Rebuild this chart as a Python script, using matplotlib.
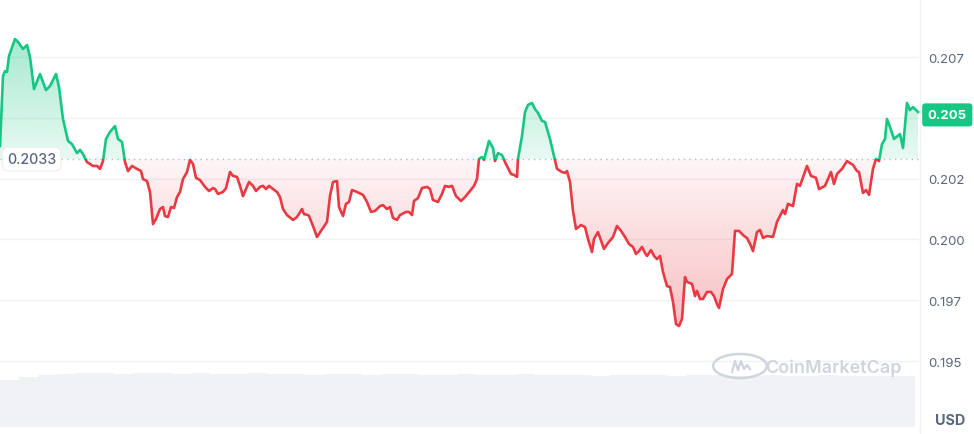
import matplotlib
matplotlib.use('Agg')
import numpy as np
import matplotlib.pyplot as plt
from matplotlib import transforms
from matplotlib.path import Path
from matplotlib.patches import Rectangle, Circle
from matplotlib.lines import Line2D
from matplotlib.colors import to_rgb

plt.rcParams['font.family'] = ['Inter', 'DejaVu Sans']

# time position of each sample (chart has no x labels, 0..919 over the day)
t = [0, 3, 5, 7, 9, 15, 18, 23, 27, 30, 34, 40, 46, 50, 56, 59, 63, 68, 72, 77,
     80, 83, 87, 93, 97, 100, 103, 106, 110, 115, 118, 122, 125, 128, 132, 137, 141, 143, 147, 150,
     153, 156, 160, 163, 165, 168, 171, 174, 177, 180, 183, 187, 190, 193, 196, 200, 205, 209, 213, 215,
     218, 223, 226, 230, 233, 237, 240, 243, 247, 249, 253, 256, 260, 263, 266, 269, 273, 277, 280, 283,
     287, 293, 297, 302, 304, 308, 309, 313, 317, 321, 327, 330, 333, 337, 339, 343, 346, 349, 352, 357,
     363, 367, 371, 375, 380, 383, 387, 390, 393, 397, 400, 406, 409, 412, 414, 418, 422, 427, 430, 433,
     438, 442, 445, 449, 452, 456, 461, 465, 470, 474, 477, 479, 482, 484, 489, 493, 495, 498, 502, 505,
     511, 514, 517, 518, 522, 525, 528, 532, 535, 538, 542, 545, 550, 554, 557, 562, 565, 567, 570, 573,
     576, 581, 585, 588, 592, 594, 598, 604, 608, 613, 617, 621, 625, 629, 633, 636, 639, 642, 645, 647,
     651, 654, 657, 660, 663, 667, 670, 673, 676, 679, 682, 685, 687, 692, 695, 697, 700, 703, 707, 711,
     714, 717, 719, 723, 727, 732, 735, 739, 744, 747, 751, 753, 757, 760, 763, 767, 773, 777, 783, 785,
     788, 793, 797, 800, 807, 811, 816, 819, 825, 831, 834, 837, 842, 847, 853, 857, 859, 863, 866, 869,
     873, 876, 879, 882, 885, 887, 890, 894, 900, 903, 907, 910, 913, 918]

price = [0.20384, 0.20672, 0.20692, 0.20688, 0.20754, 0.20824, 0.20812, 0.20783, 0.20799, 0.20750,
         0.20618, 0.20680, 0.20614, 0.20631, 0.20680, 0.20627, 0.20495, 0.20405, 0.20392, 0.20355,
         0.20368, 0.20351, 0.20318, 0.20302, 0.20302, 0.20290, 0.20322, 0.20413, 0.20442, 0.20466,
         0.20413, 0.20401, 0.20318, 0.20281, 0.20302, 0.20290, 0.20281, 0.20248, 0.20240, 0.20195,
         0.20063, 0.20084, 0.20125, 0.20133, 0.20096, 0.20092, 0.20133, 0.20129, 0.20174, 0.20195,
         0.20248, 0.20277, 0.20327, 0.20310, 0.20253, 0.20244, 0.20216, 0.20199, 0.20211, 0.20207,
         0.20187, 0.20195, 0.20211, 0.20277, 0.20261, 0.20257, 0.20220, 0.20178, 0.20216, 0.20236,
         0.20220, 0.20199, 0.20216, 0.20220, 0.20207, 0.20220, 0.20207, 0.20195, 0.20174, 0.20125,
         0.20100, 0.20080, 0.20092, 0.20125, 0.20104, 0.20100, 0.20096, 0.20055, 0.20010, 0.20035,
         0.20072, 0.20178, 0.20236, 0.20240, 0.20133, 0.20096, 0.20146, 0.20154, 0.20203, 0.20195,
         0.20183, 0.20154, 0.20113, 0.20117, 0.20137, 0.20141, 0.20125, 0.20133, 0.20088, 0.20080,
         0.20100, 0.20113, 0.20113, 0.20100, 0.20158, 0.20170, 0.20211, 0.20216, 0.20207, 0.20162,
         0.20154, 0.20187, 0.20220, 0.20216, 0.20220, 0.20178, 0.20158, 0.20174, 0.20199, 0.20220,
         0.20248, 0.20331, 0.20339, 0.20327, 0.20405, 0.20376, 0.20322, 0.20355, 0.20347, 0.20318,
         0.20269, 0.20265, 0.20257, 0.20331, 0.20425, 0.20524, 0.20553, 0.20561, 0.20536, 0.20520,
         0.20487, 0.20483, 0.20413, 0.20343, 0.20290, 0.20277, 0.20273, 0.20281, 0.20236, 0.20117,
         0.20043, 0.20059, 0.20051, 0.20002, 0.19948, 0.20002, 0.20030, 0.19961, 0.19985, 0.20010,
         0.20055, 0.20035, 0.20010, 0.19981, 0.19969, 0.19940, 0.19952, 0.19969, 0.19944, 0.19932,
         0.19956, 0.19932, 0.19919, 0.19932, 0.19866, 0.19808, 0.19804, 0.19743, 0.19652, 0.19644,
         0.19673, 0.19845, 0.19825, 0.19817, 0.19767, 0.19788, 0.19755, 0.19755, 0.19784, 0.19784,
         0.19767, 0.19734, 0.19718, 0.19796, 0.19837, 0.19858, 0.20035, 0.20035, 0.20014, 0.20006,
         0.19973, 0.19952, 0.20030, 0.20039, 0.20006, 0.20014, 0.20010, 0.20072, 0.20121, 0.20104,
         0.20146, 0.20137, 0.20228, 0.20220, 0.20302, 0.20261, 0.20253, 0.20207, 0.20220, 0.20277,
         0.20228, 0.20269, 0.20290, 0.20322, 0.20306, 0.20281, 0.20277, 0.20191, 0.20203, 0.20183,
         0.20290, 0.20331, 0.20322, 0.20392, 0.20413, 0.20495, 0.20462, 0.20413, 0.20433, 0.20376,
         0.20561, 0.20532, 0.20544, 0.20524]

open_price = 0.2033
yticks = [0.195, 0.1975, 0.2, 0.2025, 0.205, 0.2075]
# the 0.205 tick sits under the live-price tag, so it shows no label of its own
ytick_labels = ['0.195', '0.197', '0.200', '0.202', '', '0.207']

volume = [47, 50, 52, 53, 54, 54, 53, 54, 54, 53, 54, 53, 53, 54, 53, 53, 52, 53, 53, 52,
          53, 53, 52, 52, 53, 52, 52, 53, 52, 52, 52, 51, 52, 52, 52, 51, 52, 52, 51, 51,
          52, 51, 51, 52, 51, 51, 51, 51]

GREEN = '#16c784'
RED = '#ea3943'
GREY = '#58667e'
GRID = '#eff2f5'


def gradient_fill(ax, x, y, base, where, color, alphas, y_lo, y_hi):
    poly = ax.fill_between(x, y, base, where=where, interpolate=True, lw=0)
    path = Path.make_compound_path(*poly.get_paths())
    poly.remove()
    img = np.zeros((256, 1, 4))
    img[..., :3] = to_rgb(color)
    img[:, 0, 3] = np.linspace(alphas[0], alphas[1], 256)
    im = ax.imshow(img, extent=[x[0], x[-1], y_lo, y_hi], aspect='auto',
                   origin='upper', zorder=1, interpolation='bilinear')
    im.set_clip_path(path, transform=ax.transData)


fig = plt.figure(figsize=(9.74, 4.35), dpi=100)
ax = fig.add_axes([0, 63 / 435, 919 / 974, 372 / 435])

x = np.array(t, dtype=float)
y = np.array(price)

gradient_fill(ax, x, y, open_price, y >= open_price, GREEN, (0.38, 0.10), open_price, y.max())
gradient_fill(ax, x, y, open_price, y <= open_price, RED, (0.05, 0.32), y.min(), open_price)

up, = ax.plot(x, y, color=GREEN, lw=1.9, zorder=3, solid_joinstyle='round')
up.set_clip_path(Rectangle((-50, open_price), 2000, 1, transform=ax.transData))
down, = ax.plot(x, y, color=RED, lw=1.9, zorder=3, solid_joinstyle='round')
down.set_clip_path(Rectangle((-50, open_price - 1), 2000, 1, transform=ax.transData))

ax.axhline(open_price, color='#b4bac4', lw=1, ls=(0, (1, 3)), zorder=2)

ax.set_xlim(0, 919)
ax.set_ylim(0.194589, 0.209885)
ax.set_yticks(yticks)
ax.set_yticklabels(ytick_labels)
ax.yaxis.tick_right()
ax.tick_params(axis='y', length=0, pad=7, labelsize=9.5, labelcolor=GREY)
ax.set_xticks([])
ax.grid(axis='y', color=GRID, lw=1, zorder=0)
ax.set_axisbelow(True)
for s in ax.spines.values():
    s.set_visible(False)

# left "open" price tag
ax.text(7, open_price, '%.4f' % open_price, ha='left', va='center', fontsize=10.3,
        color=GREY, fontweight='medium', zorder=6,
        bbox=dict(boxstyle='round,pad=0.33,rounding_size=0.4', fc='white', ec='#eceef2', lw=0.8))

# current price tag on the right axis
blend = transforms.blended_transform_factory(ax.transAxes, ax.transData)
ax.text(1.0095, price[-1] - 0.00012, '%.3f' % price[-1], transform=blend, ha='left', va='center',
        fontsize=9.5, color='white', fontweight='bold', zorder=7, clip_on=False,
        bbox=dict(boxstyle='round,pad=0.42,rounding_size=0.25', fc=GREEN, ec='none'))

# volume strip
axv = fig.add_axes([0, 7 / 435, 915 / 974, 56 / 435])
axv.bar(np.arange(len(volume)), volume, width=1.0, align='edge', color='#f0f2f5', lw=0)
axv.set_xlim(0, len(volume))
axv.set_ylim(0, max(volume) * 1.04)
axv.axis('off')

# right border line
fig.add_artist(Line2D([920 / 974, 920 / 974], [0, 1], transform=fig.transFigure, color=GRID, lw=1))

fig.text(950 / 974, 1 - 421 / 435, 'USD', ha='center', va='center', fontsize=10.3,
         fontweight='bold', color=GREY)

# watermark
wm = '#d0d5dd'
fig.add_artist(Circle((740 / 974, 1 - 367 / 435), 12 / 435, transform=fig.transFigure,
                      fill=False, ec=wm, lw=1.8, zorder=10))
wx = np.array([732, 735, 738, 741, 744, 747, 750]) / 974
wy = 1 - np.array([373, 362, 371, 362, 370, 366, 370]) / 435
fig.add_artist(Line2D(wx, wy, transform=fig.transFigure, color=wm, lw=1.6, zorder=10))
fig.text(765 / 974, 1 - 368 / 435, 'CoinMarketCap', ha='left', va='center', fontsize=13,
         fontweight='semibold', color=wm, zorder=10)

fig.savefig('out.png', dpi=100)
